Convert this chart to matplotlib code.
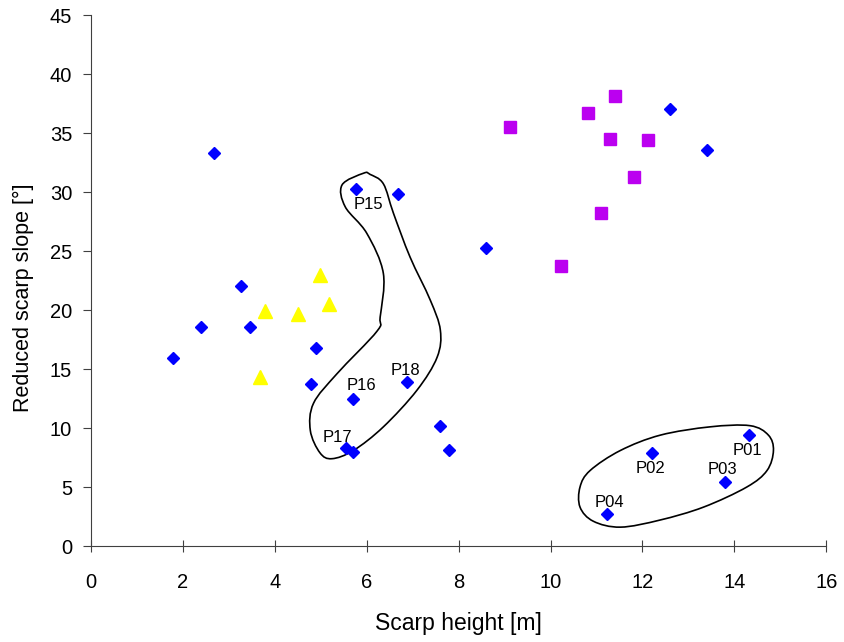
import numpy as np
import matplotlib.pyplot as plt
from matplotlib.path import Path
from matplotlib.patches import PathPatch

plt.rcParams['font.family'] = ['Liberation Sans', 'DejaVu Sans']

# blue diamonds: scarp height [m], reduced slope [deg]
blue_x = [1.78, 2.39, 2.68, 3.27, 3.46, 4.90, 4.79, 5.77, 6.68, 5.70,
          6.88, 5.55, 5.70, 7.60, 7.79, 8.60, 12.60, 13.40, 14.31, 12.21,
          13.79, 11.22]
blue_y = [15.9, 18.6, 33.3, 22.0, 18.6, 16.8, 13.7, 30.3, 29.8, 12.5,
          13.9, 8.3, 8.0, 10.2, 8.1, 25.3, 37.0, 33.6, 9.4, 7.9,
          5.4, 2.7]

# magenta squares
mag_x = [11.41, 10.82, 9.11, 11.30, 12.13, 11.81, 11.09, 10.22]
mag_y = [38.1, 36.7, 35.5, 34.5, 34.4, 31.3, 28.2, 23.7]

# yellow triangles
yel_x = [4.98, 3.79, 4.51, 5.18, 3.68]
yel_y = [23.0, 19.9, 19.7, 20.5, 14.3]

# labelled profiles: name, x, y, label offset (pixels)
lab_names = ['P15', 'P16', 'P17', 'P18', 'P01', 'P02', 'P03', 'P04']
lab_x = [5.77, 5.70, 5.55, 6.88, 14.31, 12.21, 13.79, 11.22]
lab_y = [30.3, 12.5, 8.3, 13.9, 9.4, 7.9, 5.4, 2.7]
lab_off = [(12, -16), (8, 13), (-9, 11), (-2, 12),
           (-1, -15), (-2, -16), (-2, 13), (3, 12)]

# outlines drawn around the groups (data coordinates)
outline1 = [(5.93, 31.6), (5.46, 30.6), (5.53, 28.75), (6.00, 26.5), (6.36, 23.1),
            (6.29, 19.4), (6.22, 18.2), (5.35, 14.6), (4.84, 12.1), (4.77, 9.8),
            (4.98, 7.9), (5.24, 7.4), (5.71, 8.1), (6.36, 10.1), (7.09, 13.2),
            (7.53, 16.0), (7.60, 18.3), (7.38, 20.85), (6.94, 24.5), (6.58, 28.2),
            (6.36, 30.7), (6.07, 31.5)]
outline2 = [(10.64, 5.0), (10.86, 6.4), (11.52, 8.1), (12.39, 9.4), (13.47, 10.1),
            (14.34, 10.2), (14.74, 9.4), (14.85, 8.1), (14.71, 6.4), (14.27, 5.0),
            (13.33, 3.3), (12.38, 2.2), (11.52, 1.6), (10.93, 2.1), (10.64, 3.3)]


def closed_curve(pts):
    # smooth closed curve through the points (Catmull-Rom as cubic Bezier)
    p = np.array(pts)
    n = len(p)
    verts = [p[0]]
    codes = [Path.MOVETO]
    for i in range(n):
        p0, p1, p2, p3 = p[i - 1], p[i], p[(i + 1) % n], p[(i + 2) % n]
        verts += [p1 + (p2 - p0) / 6, p2 - (p3 - p1) / 6, p2]
        codes += [Path.CURVE4] * 3
    return Path(verts, codes)


fig = plt.figure(figsize=(8.44, 6.42), dpi=100)
ax = fig.add_axes([0.108, 0.1495, 0.871, 0.827])

ax.plot(blue_x, blue_y, 'D', color='#0000FF', ms=6.5, ls='None')
ax.plot(mag_x, mag_y, 's', color='#BB00F0', ms=9, ls='None')
ax.plot(yel_x, yel_y, '^', color='#FFFF00', ms=9.5, ls='None')

for pts in [outline1, outline2]:
    ax.add_patch(PathPatch(closed_curve(pts), facecolor='none', edgecolor='black', lw=1.2))

for name, x, y, off in zip(lab_names, lab_x, lab_y, lab_off):
    ax.annotate(name, (x, y), xytext=off, textcoords='offset pixels',
                ha='center', va='center', fontsize=12)

ax.set_xlim(0, 16)
ax.set_ylim(0, 45)
ax.set_xticks(range(0, 17, 2))
ax.set_yticks(range(0, 46, 5))
ax.spines['top'].set_visible(False)
ax.spines['right'].set_visible(False)
for s in ['left', 'bottom']:
    ax.spines[s].set_color('#404040')
ax.tick_params(labelsize=14.5, colors='#404040', labelcolor='black')
ax.tick_params(axis='x', direction='inout', length=8.6, pad=15)
ax.tick_params(axis='y', direction='out', length=5.8, pad=7.9)
ax.set_xlabel('Scarp height [m]', fontsize=16.5)
ax.set_ylabel('Reduced scarp slope [°]', fontsize=15.5)
ax.xaxis.set_label_coords(0.5, -0.124)
ax.yaxis.set_label_coords(-0.078, 0.467)

fig.savefig('out.png', dpi=100)
